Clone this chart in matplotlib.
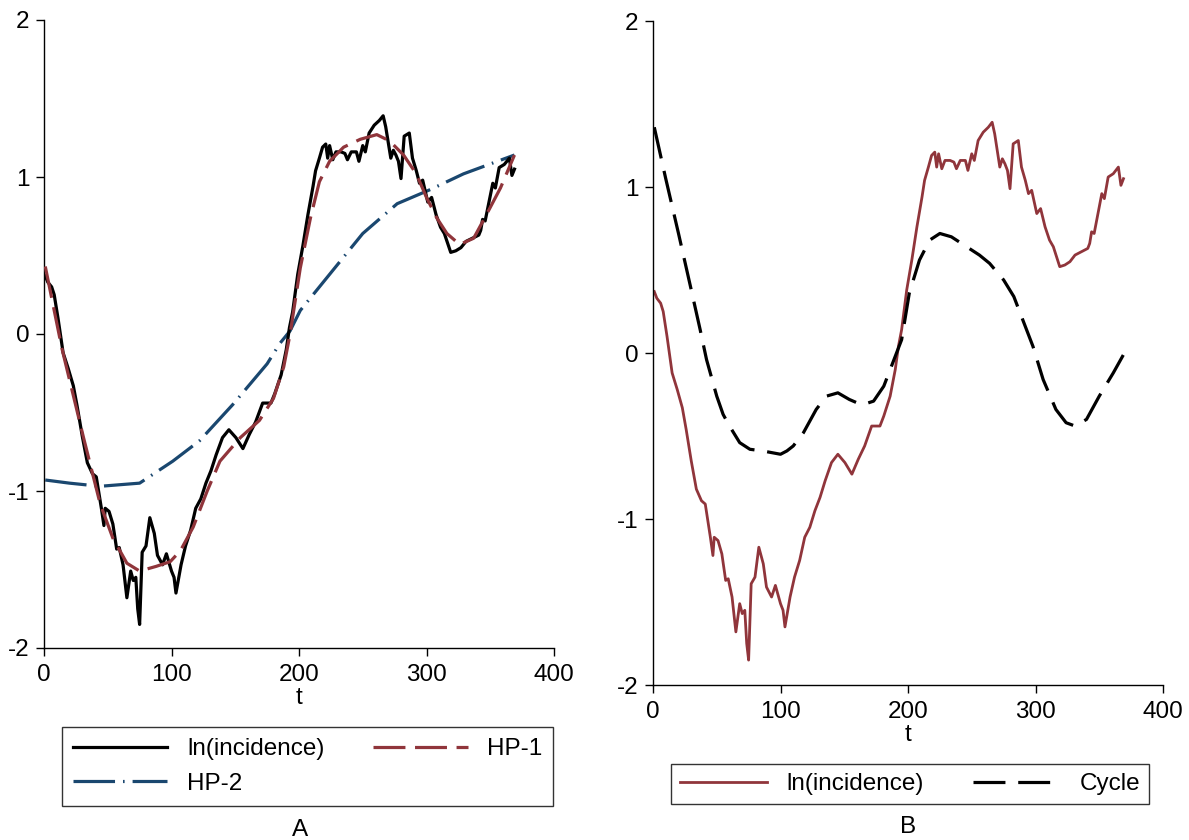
import numpy as np
import matplotlib
matplotlib.use('Agg')
import matplotlib.pyplot as plt

plt.rcParams['font.family'] = ['Liberation Sans', 'DejaVu Sans']
plt.rcParams['axes.unicode_minus'] = False

# ln(incidence) series
t_inc = [1, 3, 6, 8, 11, 15, 19, 23, 26, 30, 34, 38, 41, 45, 47, 48, 51, 54, 57, 59,
         62, 65, 68, 70, 72, 73.5, 75, 77, 80, 83, 86.5, 89, 93, 96, 100, 102, 103.5,
         107.5, 111, 115, 119, 123, 127, 131, 135, 140, 145, 150.5, 156, 161, 166,
         171.5, 178, 181, 186, 190, 192.5, 195, 199, 203, 207, 211, 213, 216, 218.5,
         221, 222.5, 224, 226.5, 229, 233, 236, 238, 241, 245, 247, 250, 252, 255,
         259, 263, 266, 268, 270, 272, 274, 276, 278, 280, 282.5, 286.5, 289, 292,
         294.5, 297, 301, 304, 307.5, 311, 314, 316.5, 319, 323, 327, 331, 336, 341,
         342.5, 344, 346, 349, 352, 354, 357, 361, 365, 367, 369]
ln_inc = [0.37, 0.33, 0.30, 0.25, 0.10, -0.12, -0.22, -0.33, -0.46, -0.65, -0.82, -0.89,
          -0.91, -1.11, -1.22, -1.11, -1.13, -1.21, -1.37, -1.36, -1.47, -1.68, -1.51,
          -1.57, -1.55, -1.75, -1.85, -1.39, -1.35, -1.17, -1.27, -1.41, -1.47, -1.40,
          -1.51, -1.55, -1.65, -1.47, -1.35, -1.25, -1.11, -1.05, -0.95, -0.87, -0.77,
          -0.66, -0.61, -0.66, -0.73, -0.64, -0.56, -0.44, -0.44, -0.38, -0.26, -0.10,
          0.04, 0.14, 0.38, 0.56, 0.76, 0.94, 1.04, 1.12, 1.19, 1.21, 1.12, 1.20, 1.11,
          1.16, 1.16, 1.15, 1.11, 1.16, 1.16, 1.10, 1.20, 1.16, 1.28, 1.33, 1.36, 1.39,
          1.32, 1.22, 1.12, 1.17, 1.14, 1.10, 0.99, 1.26, 1.28, 1.12, 1.04, 0.96, 0.98,
          0.84, 0.87, 0.76, 0.68, 0.64, 0.58, 0.52, 0.53, 0.55, 0.59, 0.61, 0.63, 0.66,
          0.73, 0.72, 0.84, 0.96, 0.93, 1.06, 1.08, 1.12, 1.01, 1.05]

# HP-1 trend
t_hp1 = [1, 14, 31, 44, 54, 65, 75, 88, 99, 107, 117, 128, 138, 154, 169, 180, 188, 193,
         201, 209, 216, 224, 235, 248, 261, 271, 282, 292, 300, 308, 316, 326, 337, 347,
         358, 369]
hp1 = [0.43, -0.09, -0.66, -1.08, -1.30, -1.46, -1.51, -1.48, -1.45, -1.38, -1.23, -1.00,
       -0.81, -0.66, -0.55, -0.41, -0.21, 0.0, 0.42, 0.74, 0.97, 1.10, 1.19, 1.24, 1.27,
       1.23, 1.14, 1.02, 0.87, 0.74, 0.64, 0.57, 0.61, 0.76, 0.93, 1.14]

# HP-2 trend
t_hp2 = [1, 20, 44, 75, 101, 122, 148, 175, 185, 193, 201, 224, 250, 277, 303, 329, 369]
hp2 = [-0.93, -0.95, -0.97, -0.95, -0.81, -0.68, -0.45, -0.19, -0.06, 0.02, 0.15, 0.38,
       0.64, 0.83, 0.92, 1.02, 1.14]

# Cycle
t_cyc = [1, 10, 20, 30, 37, 42, 50, 55, 60, 68, 76, 86, 93, 100, 105, 110, 118, 128, 136,
         145, 154, 160, 165, 173, 181, 188, 195, 201, 209, 217, 225, 234, 246, 256, 264,
         275, 283, 290, 298, 306, 316, 324, 331, 340, 350, 361, 369]
cycle = [1.36, 1.05, 0.72, 0.38, 0.14, -0.04, -0.26, -0.37, -0.44, -0.54, -0.58, -0.59,
         -0.60, -0.61, -0.59, -0.56, -0.48, -0.34, -0.26, -0.24, -0.28, -0.30, -0.31,
         -0.29, -0.20, -0.06, 0.08, 0.36, 0.56, 0.68, 0.72, 0.70, 0.64, 0.59, 0.54, 0.44,
         0.34, 0.20, 0.04, -0.16, -0.34, -0.42, -0.44, -0.40, -0.26, -0.12, -0.01]

navy = '#1a476f'
maroon = '#90353b'
fs = 17.5

fig = plt.figure(figsize=(11.89, 8.4), dpi=100)
fig.patch.set_facecolor('white')

axA = fig.add_axes([44/1189, 1-648/840, 510/1189, 628/840])
axB = fig.add_axes([653/1189, 1-685/840, 510/1189, 664/840])

# panel A
lA1, = axA.plot(t_inc, ln_inc, color='black', lw=2.3, label='ln(incidence)', zorder=3)
lA2, = axA.plot(t_hp1, hp1, color=maroon, lw=2.3, dashes=(10, 3), label='HP-1', zorder=4)
lA3, = axA.plot(t_hp2, hp2, color=navy, lw=2.3, dashes=(13, 2.5, 0.5, 2.5), label='HP-2', zorder=2)

# panel B
lB1, = axB.plot(t_inc, ln_inc, color=maroon, lw=2.0, label='ln(incidence)')
lB2, = axB.plot(t_cyc, cycle, color='black', lw=2.3, dashes=(10, 4), label='Cycle')

for ax in (axA, axB):
    ax.set_xlim(0, 400)
    ax.set_ylim(-2, 2)
    ax.set_xticks([0, 100, 200, 300, 400])
    ax.set_yticks([-2, -1, 0, 1, 2])
    ax.spines['top'].set_visible(False)
    ax.spines['right'].set_visible(False)
    for s in ('left', 'bottom'):
        ax.spines[s].set_linewidth(1.0)
        ax.spines[s].set_color('black')
    ax.tick_params(direction='out', length=5.5, width=1.0, labelsize=fs, pad=5)
    ax.tick_params(axis='x', pad=6)
    ax.set_xlabel('t', fontsize=fs, labelpad=1)
    ax.patch.set_alpha(0)

# row-major order as in the reference legend
legA = fig.legend([lA1, lA3, lA2], ['ln(incidence)', 'HP-2', 'HP-1'], loc='center',
                  bbox_to_anchor=(307.5/1189, 1-766.5/840), ncol=2, fontsize=fs,
                  frameon=True, fancybox=False, edgecolor='black', handlelength=3.9,
                  handletextpad=0.8, columnspacing=2.0, borderpad=0.45, labelspacing=0.5)
legA.get_frame().set_linewidth(1.0)
legB = fig.legend([lB1, lB2], ['ln(incidence)', 'Cycle'], loc='center',
                  bbox_to_anchor=(910/1189, 1-784/840), ncol=2, fontsize=fs,
                  frameon=True, fancybox=False, edgecolor='black', handlelength=3.6,
                  handletextpad=0.8, columnspacing=2.0, borderpad=0.35)
legB.get_frame().set_linewidth(1.0)

fig.text(300/1189, 1-830/840, 'A', ha='center', va='center', fontsize=fs)
fig.text(908/1189, 1-827/840, 'B', ha='center', va='center', fontsize=fs)

fig.savefig('out.png', dpi=100)
